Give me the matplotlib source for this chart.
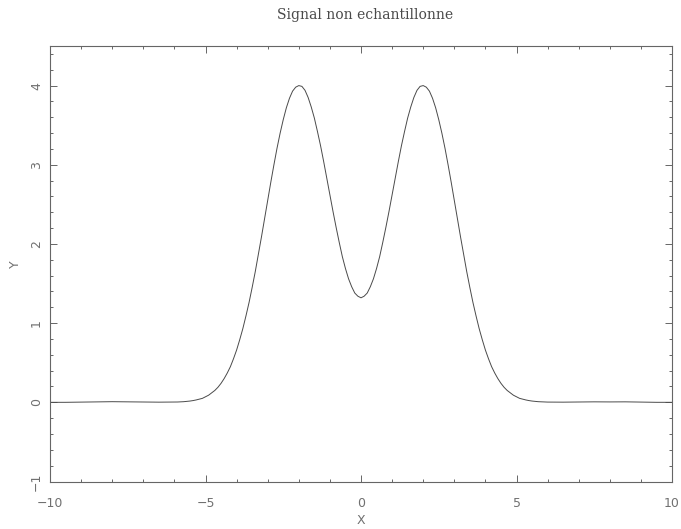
import numpy as np
import matplotlib
matplotlib.use("Agg")
import matplotlib.pyplot as plt
from matplotlib.ticker import MultipleLocator


TITRE = "Signal non echantillonne"

# queue gauche du signal (quasi nulle)
x_gauche = [-10.0, -9.5, -9.0, -8.5, -8.0, -7.5, -7.0, -6.5]
y_gauche = [0.0, 0.0, 0.003, 0.006, 0.008, 0.006, 0.004, 0.002]

# partie centrale, lue tous les 0.1 de -6 a 6
x_centre = np.round(np.linspace(-6.0, 6.0, 121), 1)
y_centre = [
    # -6.0 .. -0.1
    0.003, 0.004, 0.006, 0.008, 0.012, 0.016, 0.022, 0.03, 0.04, 0.05,
    0.07, 0.09, 0.12, 0.15, 0.19, 0.24, 0.30, 0.37, 0.45, 0.55,
    0.66, 0.79, 0.93, 1.09, 1.26, 1.45, 1.65, 1.87, 2.09, 2.32,
    2.55, 2.78, 3.00, 3.21, 3.40, 3.57, 3.72, 3.84, 3.93, 3.98,
    4.00, 3.99, 3.94, 3.85, 3.73, 3.59, 3.42, 3.24, 3.04, 2.83,
    2.62, 2.41, 2.21, 2.02, 1.84, 1.69, 1.56, 1.46, 1.38, 1.34,
    # 0
    1.32,
    # 0.1 .. 6.0
    1.34, 1.38, 1.46, 1.56, 1.69, 1.84, 2.02, 2.21, 2.41, 2.62,
    2.83, 3.04, 3.24, 3.42, 3.59, 3.73, 3.85, 3.94, 3.99, 4.00,
    3.98, 3.93, 3.84, 3.72, 3.57, 3.40, 3.21, 3.00, 2.78, 2.55,
    2.32, 2.09, 1.87, 1.65, 1.45, 1.26, 1.09, 0.93, 0.79, 0.66,
    0.55, 0.45, 0.37, 0.30, 0.24, 0.19, 0.15, 0.12, 0.09, 0.07,
    0.05, 0.04, 0.03, 0.022, 0.016, 0.012, 0.008, 0.006, 0.004, 0.003,
]

# queue droite
x_droite = [6.5, 7.0, 7.5, 8.0, 8.5, 9.0, 9.5, 10.0]
y_droite = [0.002, 0.004, 0.006, 0.005, 0.006, 0.003, 0.0, 0.0]

x = np.concatenate([x_gauche, x_centre, x_droite])
y = np.concatenate([y_gauche, y_centre, y_droite])

gris = "#666666"

fig = plt.figure(figsize=(6.81, 5.29), dpi=100)
ax = fig.add_axes([50 / 681, 1 - 481.5 / 529, 622 / 681, 435.5 / 529])

ax.plot(x, y, color="#4a4a4a", linewidth=0.7)

ax.set_xlim(-10, 10)
ax.set_ylim(-1, 4.5)

ax.xaxis.set_major_locator(MultipleLocator(5))
ax.xaxis.set_minor_locator(MultipleLocator(1))
ax.yaxis.set_major_locator(MultipleLocator(1))
ax.yaxis.set_minor_locator(MultipleLocator(0.2))

ax.tick_params(which="both", direction="in", top=True, right=True,
               colors=gris, labelcolor="#707070", width=0.7, labelsize=9)
ax.tick_params(which="major", length=5)
ax.tick_params(which="minor", length=2.5)
ax.tick_params(axis="x", pad=11)
ax.tick_params(axis="y", pad=5)
for lab in ax.get_yticklabels():
    lab.set_rotation(90)
    lab.set_va("center")

for sp in ax.spines.values():
    sp.set_color(gris)
    sp.set_linewidth(0.8)

ax.set_xlabel("X", color="#707070", fontsize=9, labelpad=3)
ax.set_ylabel("Y", color="#707070", fontsize=9, labelpad=6)
fig.text(0.536, 1 - 15 / 529, TITRE, ha="center", va="center",
         family="DejaVu Serif", fontsize=10, color="#4a4a4a")

fig.savefig("out.png", dpi=100)
